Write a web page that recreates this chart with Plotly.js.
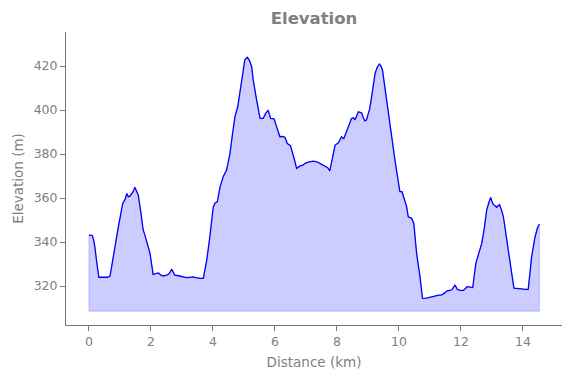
<!DOCTYPE html>
<html>
<head>
<meta charset="utf-8">
<script src="https://cdn.plot.ly/plotly-3.0.1.min.js"></script>
<style>html,body{margin:0;padding:0;background:#fff;}#chart{width:571px;height:378px;}</style>
</head>
<body>
<div id="chart"></div>
<script>
// Distance along route (km)
const distanceKm = [0.00,0.05,0.11,0.15,0.19,0.25,0.32,0.45,0.60,0.68,0.78,0.95,1.09,1.17,1.22,1.27,1.33,1.38,1.43,1.48,1.53,1.59,1.67,1.75,1.82,1.88,1.97,2.07,2.15,2.24,2.32,2.40,2.50,2.58,2.67,2.72,2.77,2.85,2.94,3.05,3.15,3.25,3.37,3.45,3.53,3.60,3.69,3.80,3.90,4.01,4.07,4.14,4.23,4.33,4.44,4.55,4.63,4.71,4.80,4.87,4.96,5.03,5.11,5.18,5.25,5.30,5.41,5.52,5.62,5.70,5.78,5.82,5.86,5.97,6.07,6.16,6.25,6.32,6.40,6.50,6.60,6.70,6.81,6.90,6.97,7.10,7.24,7.35,7.45,7.55,7.61,7.70,7.77,7.85,7.94,8.04,8.10,8.15,8.22,8.30,8.36,8.47,8.53,8.58,8.64,8.69,8.75,8.80,8.85,8.90,8.95,9.06,9.15,9.23,9.30,9.37,9.42,9.47,9.56,9.66,9.73,9.80,9.87,9.95,10.03,10.10,10.15,10.19,10.25,10.30,10.41,10.48,10.57,10.68,10.76,10.89,11.00,11.11,11.25,11.38,11.45,11.49,11.55,11.65,11.72,11.81,11.88,11.97,12.08,12.20,12.30,12.38,12.48,12.58,12.67,12.75,12.83,12.90,12.96,13.00,13.05,13.10,13.15,13.24,13.30,13.37,13.45,13.53,13.62,13.71,13.80,13.95,14.09,14.17,14.28,14.39,14.47,14.53];
// Elevation (m)
const elevationM = [343.2,343.0,343.0,341.0,337.9,331.0,324.0,324.0,324.0,324.5,333.3,347.0,357.6,359.5,362.1,360.6,361.0,362.0,363.0,364.9,363.5,361.4,354.0,345.5,342.5,339.4,334.9,325.3,325.8,326.0,325.0,324.6,325.0,325.5,327.6,326.0,325.0,324.8,324.5,324.2,323.8,324.0,324.2,323.8,323.5,323.5,323.5,331.8,342.4,356.0,357.8,358.3,365.1,369.7,372.7,380.3,389.0,397.0,401.5,407.6,416.7,423.0,424.0,422.5,419.7,413.6,404.5,396.2,396.2,398.5,400.0,397.5,396.2,396.0,392.0,387.9,388.0,387.6,384.8,383.8,379.0,373.5,374.6,375.0,375.8,376.5,376.8,376.5,375.8,375.0,374.2,373.8,372.4,378.0,384.1,385.0,386.5,387.9,387.0,390.0,392.4,396.2,396.5,395.5,397.5,399.2,399.0,398.7,396.5,395.1,395.5,400.8,409.0,416.7,419.5,420.9,420.0,418.2,409.0,397.7,392.4,384.5,377.3,370.0,362.9,362.9,360.5,359.1,356.0,351.5,350.8,348.5,334.9,324.2,314.4,314.5,315.0,315.5,315.8,316.0,316.5,317.0,317.8,318.0,318.5,320.5,318.5,318.0,318.0,319.7,319.5,319.3,330.3,335.5,339.4,346.0,354.5,358.0,360.3,358.5,357.0,356.5,355.8,357.0,355.0,351.5,344.5,336.4,327.5,319.0,319.0,318.7,318.5,318.5,333.3,342.4,346.5,348.2];
const fillBase = 308.6;

const gray = '#808080';
const font = 'DejaVu Sans, sans-serif';

const polyX = [distanceKm[0]].concat(distanceKm, [distanceKm[distanceKm.length-1], distanceKm[0]]);
const polyY = [fillBase].concat(elevationM, [fillBase, fillBase]);

const traces = [
  {x: polyX, y: polyY, type: 'scatter', mode: 'lines', fill: 'toself',
   fillcolor: 'rgba(0,0,255,0.2)', line: {color: 'rgba(0,0,255,0.2)', width: 1},
   hoverinfo: 'skip', showlegend: false},
  {x: distanceKm, y: elevationM, type: 'scatter', mode: 'lines',
   line: {color: '#0000ff', width: 1.3}, showlegend: false}
];

const layout = {
  width: 571, height: 378,
  margin: {l: 66, r: 9, t: 32, b: 53},
  paper_bgcolor: '#fff', plot_bgcolor: '#fff',
  font: {family: font, color: gray, size: 12.5},
  title: {text: '<b>Elevation</b>', font: {family: font, size: 16.5, color: gray},
          x: 0.55, xref: 'container', xanchor: 'center', y: 0.952, yanchor: 'middle'},
  xaxis: {range: [-0.74, 15.26], tickmode: 'linear', tick0: 0, dtick: 2,
          showgrid: false, zeroline: false, showline: true, linecolor: '#777', linewidth: 1,
          ticks: 'outside', ticklen: 5, tickcolor: '#777',
          tickfont: {family: font, size: 12.5, color: gray},
          title: {text: 'Distance (km)', font: {family: font, size: 13.5, color: gray}, standoff: 9}},
  yaxis: {range: [302.3, 435.5], tickmode: 'linear', tick0: 320, dtick: 20,
          showgrid: false, zeroline: false, showline: true, linecolor: '#777', linewidth: 1,
          ticks: 'outside', ticklen: 5, tickcolor: '#777',
          tickfont: {family: font, size: 12.5, color: gray},
          title: {text: 'Elevation (m)', font: {family: font, size: 13.5, color: gray}, standoff: 6}}
};

Plotly.newPlot('chart', traces, layout, {staticPlot: true, displayModeBar: false});
</script>
</body>
</html>
